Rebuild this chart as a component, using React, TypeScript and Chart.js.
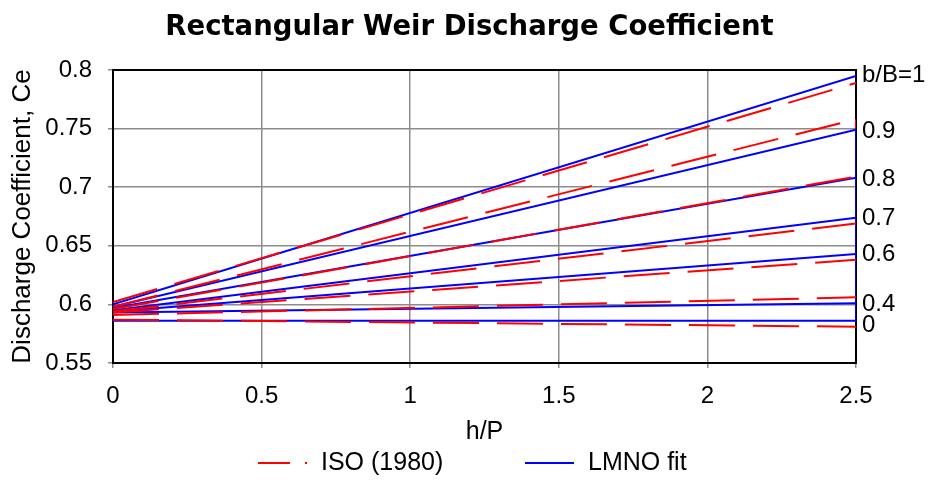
import React, { useEffect, useRef } from "react";
import { Chart, registerables } from "chart.js";

Chart.register(...registerables);

// ---- data ----
const curveLabels = ["b/B=1", "0.9", "0.8", "0.7", "0.6", "0.4", "0"];
const hpRange = [0, 2.5];
const isoStart = [0.602, 0.598, 0.596, 0.594, 0.593, 0.591, 0.587];
const isoEnd = [0.789, 0.758, 0.709, 0.669, 0.638, 0.606, 0.581];
const lmnoStart = [0.6, 0.598, 0.597, 0.595, 0.594, 0.593, 0.586];
const lmnoEnd = [0.795, 0.749, 0.708, 0.674, 0.643, 0.601, 0.586];
const lmnoEdge = [0.749, 0.585];
const isoEdge = [0.758, 0.75];
const curveLabelValues = [0.795, 0.748, 0.707, 0.673, 0.643, 0.6, 0.582];
const xTickLabels = ["0", "0.5", "1", "1.5", "2", "2.5"];
const yTickLabels = ["0.55", "0.6", "0.65", "0.7", "0.75", "0.8"];
const seriesNames = ["ISO (1980)", "LMNO fit"];

const FONT = "'Liberation Sans', Arial, sans-serif";
const RED = "#ff0000";
const BLUE = "#0000ff";
const ISO_DASH = [46, 18];
const ISO_LEGEND_DASH = [32, 15, 2, 15];

// legend drawn below the x axis title, using the datasets' own styles
const legendPlugin = {
  id: "weirLegend",
  afterDraw(chart: any) {
    const ctx = chart.ctx;
    const items = [
      { ds: chart.data.datasets.find((d: any) => d.label === seriesNames[0]), x: 258, dash: ISO_LEGEND_DASH },
      { ds: chart.data.datasets.find((d: any) => d.label === seriesNames[1]), x: 525, dash: [] as number[] },
    ];
    const y = 463;
    ctx.save();
    ctx.font = `25px ${FONT}`;
    ctx.textBaseline = "middle";
    ctx.textAlign = "left";
    items.forEach((it) => {
      ctx.beginPath();
      ctx.setLineDash(it.dash);
      ctx.strokeStyle = it.ds.borderColor;
      ctx.lineWidth = it.ds.borderWidth;
      ctx.moveTo(it.x, y);
      ctx.lineTo(it.x + 49, y);
      ctx.stroke();
      ctx.setLineDash([]);
      ctx.fillStyle = "#000";
      ctx.fillText(it.ds.label, it.x + 63, y);
    });
    ctx.restore();
  },
};

export default function App() {
  const ref = useRef<HTMLCanvasElement | null>(null);

  useEffect(() => {
    document.body.style.margin = "0";
    const canvas = ref.current;
    if (!canvas) return;

    const datasets: any[] = [];
    isoStart.forEach((s, i) => {
      datasets.push({
        label: seriesNames[0],
        data: [
          { x: hpRange[0], y: s },
          { x: hpRange[1], y: isoEnd[i] },
        ],
        borderColor: RED,
        backgroundColor: RED,
        borderWidth: 2,
        borderDash: ISO_DASH,
        pointRadius: 0,
        fill: false,
      });
    });
    datasets.push({
      label: seriesNames[0] + " edge",
      data: [
        { x: hpRange[1], y: isoEdge[0] },
        { x: hpRange[1], y: isoEdge[1] },
      ],
      borderColor: RED,
      borderWidth: 2,
      pointRadius: 0,
      fill: false,
    });
    lmnoStart.forEach((s, i) => {
      datasets.push({
        label: seriesNames[1],
        data: [
          { x: hpRange[0], y: s },
          { x: hpRange[1], y: lmnoEnd[i] },
        ],
        borderColor: BLUE,
        backgroundColor: BLUE,
        borderWidth: 2,
        pointRadius: 0,
        fill: false,
      });
    });
    datasets.push({
      label: seriesNames[1] + " edge",
      data: [
        { x: hpRange[1], y: lmnoEdge[0] },
        { x: hpRange[1], y: lmnoEdge[1] },
      ],
      borderColor: BLUE,
      borderWidth: 2,
      pointRadius: 0,
      fill: false,
    });

    const gridStyle = {
      color: "#8c8c8c",
      lineWidth: 1.5,
      tickLength: 5,
      tickColor: "#8c8c8c",
    };

    const chart = new Chart(canvas, {
      type: "line",
      data: { datasets },
      plugins: [legendPlugin],
      options: {
        animation: false,
        responsive: false,
        devicePixelRatio: 1,
        layout: { padding: { top: 0, left: 0, right: -10, bottom: 33 } },
        plugins: {
          tooltip: { enabled: false },
          legend: { display: false },
          title: {
            display: true,
            text: "Rectangular Weir Discharge Coefficient",
            color: "#000",
            font: { family: "'DejaVu Sans', sans-serif", size: 27.5, weight: "bold" },
            padding: { top: 11, bottom: 26 },
          },
        },
        scales: {
          x: {
            type: "linear",
            position: "bottom",
            min: 0,
            max: 2.5,
            grid: gridStyle,
            border: { color: "#000", width: 2 },
            ticks: {
              stepSize: 0.5,
              color: "#000",
              font: { family: FONT, size: 24 },
              padding: 14,
              maxRotation: 0,
              autoSkip: false,
              callback: (_v: any, i: number) => xTickLabels[i],
            },
            title: {
              display: true,
              text: "h/P",
              color: "#000",
              font: { family: FONT, size: 25 },
              padding: { top: 0, bottom: 0 },
            },
            afterFit: (s: any) => {
              s.height = 84;
            },
          },
          xTop: {
            type: "linear",
            position: "top",
            min: 0,
            max: 2.5,
            grid: { display: false, drawTicks: false },
            ticks: { display: false },
            border: { display: true, color: "#000", width: 2 },
            afterFit: (s: any) => {
              s.height = 0;
            },
          },
          y: {
            type: "linear",
            position: "left",
            min: 0.55,
            max: 0.8,
            grid: gridStyle,
            border: { color: "#000", width: 2 },
            ticks: {
              stepSize: 0.05,
              color: "#000",
              font: { family: FONT, size: 24 },
              padding: 16,
              autoSkip: false,
              callback: (_v: any, i: number) => yTickLabels[i],
            },
            title: {
              display: true,
              text: "Discharge Coefficient, Ce",
              color: "#000",
              font: { family: FONT, size: 26 },
              padding: { top: 7.5, bottom: 0 },
            },
            afterFit: (s: any) => {
              s.width = 113;
            },
          },
          yRight: {
            type: "linear",
            position: "right",
            min: 0.55,
            max: 0.8,
            grid: { display: false, drawTicks: false },
            border: { display: true, color: "#000", width: 2 },
            ticks: {
              color: "#000",
              font: { family: FONT, size: 24 },
              padding: 6,
              autoSkip: false,
              callback: (_v: any, i: number) => curveLabels[i],
            },
            afterBuildTicks: (s: any) => {
              s.ticks = curveLabelValues.map((value) => ({ value }));
            },
            afterFit: (s: any) => {
              s.width = 83;
            },
          },
        },
      } as any,
    });

    return () => chart.destroy();
  }, []);

  return (
    <div style={{ width: 929, height: 480 }}>
      <canvas ref={ref} width={929} height={480} style={{ display: "block" }} />
    </div>
  );
}
